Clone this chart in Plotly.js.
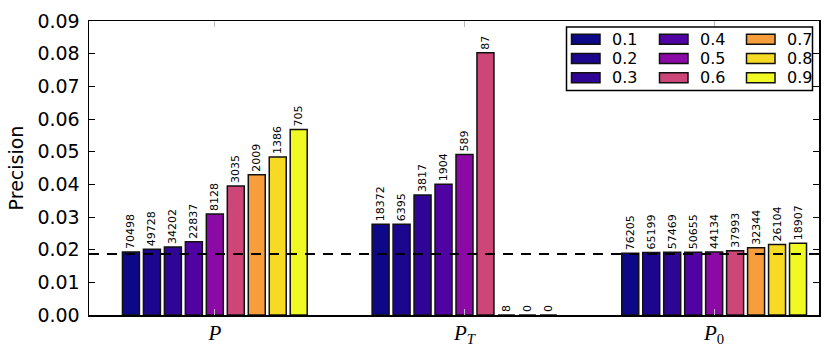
<!DOCTYPE html>
<html>
<head>
<meta charset="utf-8">
<script src="https://cdn.plot.ly/plotly-3.0.1.min.js"></script>
<style>html,body{margin:0;padding:0;background:#fff;}#chart{width:831px;height:353px;}</style>
</head>
<body>
<div id="chart"></div>
<script>
// Data
const groups = [0, 1, 2];
const groupLabels = ['<i>P</i>', '<i>P</i><sub><i>T</i></sub>', '<i>P</i><sub>0</sub>'];
const thresholds = ['0.1', '0.2', '0.3', '0.4', '0.5', '0.6', '0.7', '0.8', '0.9'];
const precisionP  = [0.0193, 0.0201, 0.0208, 0.0224, 0.0309, 0.0395, 0.0429, 0.0484, 0.0568];
const precisionPT = [0.0278, 0.0278, 0.0367, 0.0400, 0.0491, 0.0803, 0, 0, 0];
const precisionP0 = [0.0189, 0.0191, 0.0192, 0.0192, 0.0193, 0.0197, 0.0206, 0.0216, 0.0220];
const countsP  = [70498, 49728, 34202, 22837, 8128, 3035, 2009, 1386, 705];
const countsPT = [18372, 6395, 3817, 1904, 589, 87, 8, 0, 0];
const countsP0 = [76205, 65199, 57469, 50655, 44134, 37993, 32344, 26104, 18907];
const baseline = 0.01865;
const colors = ['#0d0887', '#1b068d', '#2e0595', '#5002a2', '#8b0aa5', '#cc4778', '#f89d3c', '#f7da24', '#f0f921'];

// Layout geometry (pixels)
const W = 831, H = 353, L = 89, R = 12, T = 21, B = 38;
const pw = W - L - R, ph = H - T - B;
const px = x => (x - L) / pw;
const py = y => (H - B - y) / ph;

const traces = thresholds.map((t, i) => ({
  type: 'bar',
  name: t,
  x: groups,
  y: [precisionP[i], precisionPT[i], precisionP0[i]],
  text: [countsP[i], countsPT[i], countsP0[i]].map(String),
  texttemplate: '%{text}',
  textposition: 'outside',
  textangle: -90,
  constraintext: 'none',
  cliponaxis: false,
  textfont: {family: 'DejaVu Sans', size: 11, color: '#000'},
  marker: {color: colors[i], line: {color: '#111', width: 1.5}},
  showlegend: false,
  hoverinfo: 'skip'
}));

const shapes = [{
  type: 'line', xref: 'paper', yref: 'y', x0: 0, x1: 1, y0: baseline, y1: baseline,
  line: {color: '#000', width: 2, dash: '10px,8px'}
}];
const annotations = [];
// manual legend (3 columns, column-major)
shapes.push({type: 'rect', xref: 'paper', yref: 'paper', x0: px(566.5), x1: px(812.5), y0: py(27), y1: py(90.5),
  line: {color: '#000', width: 1.5}, fillcolor: '#fff', layer: 'above'});
const colSw = [571.5, 659.5, 746.5], colTx = [610, 697.5, 785];
const rowY = [39.2, 58.5, 77.8];
thresholds.forEach((t, i) => {
  const c = Math.floor(i / 3), r = i % 3;
  shapes.push({type: 'rect', xref: 'paper', yref: 'paper', layer: 'above',
    x0: px(colSw[c]), x1: px(colSw[c] + 28.5), y0: py(rowY[r] - 5), y1: py(rowY[r] + 5),
    fillcolor: colors[i], line: {color: '#111', width: 1.5}});
  annotations.push({xref: 'paper', yref: 'paper', x: px(colTx[c]), y: py(rowY[r]), text: t,
    showarrow: false, xanchor: 'left', yanchor: 'middle',
    font: {family: 'DejaVu Sans', size: 16, color: '#000'}});
});

const layout = {
  width: W, height: H,
  margin: {l: L, r: R, t: T, b: B, pad: 0},
  paper_bgcolor: '#fff', plot_bgcolor: '#fff',
  barmode: 'group', bargap: 0.244, bargroupgap: 0.19,
  showlegend: false,
  xaxis: {
    range: [-0.504, 2.42], tickvals: groups, ticktext: groupLabels,
    ticks: 'inside', ticklen: 6, tickcolor: '#bbb', mirror: 'ticks',
    showline: true, linecolor: '#000', linewidth: 1.5, showgrid: false, zeroline: false,
    ticklabelstandoff: -2,
    tickfont: {family: 'Liberation Serif', size: 21, color: '#000'}
  },
  yaxis: {
    range: [0, 0.09], tickvals: [0, 0.01, 0.02, 0.03, 0.04, 0.05, 0.06, 0.07, 0.08, 0.09],
    tickformat: '.2f', ticks: 'inside', ticklen: 6, tickcolor: '#000', mirror: 'ticks',
    showline: true, linecolor: '#000', linewidth: 1.5, showgrid: false, zeroline: false,
    ticklabelstandoff: 4,
    tickfont: {family: 'DejaVu Sans', size: 19, color: '#000'},
    title: {text: 'Precision', font: {family: 'DejaVu Sans', size: 19, color: '#000'}, standoff: 8}
  },
  shapes: shapes,
  annotations: annotations
};

Plotly.newPlot('chart', traces, layout, {displayModeBar: false, staticPlot: true});
</script>
</body>
</html>
